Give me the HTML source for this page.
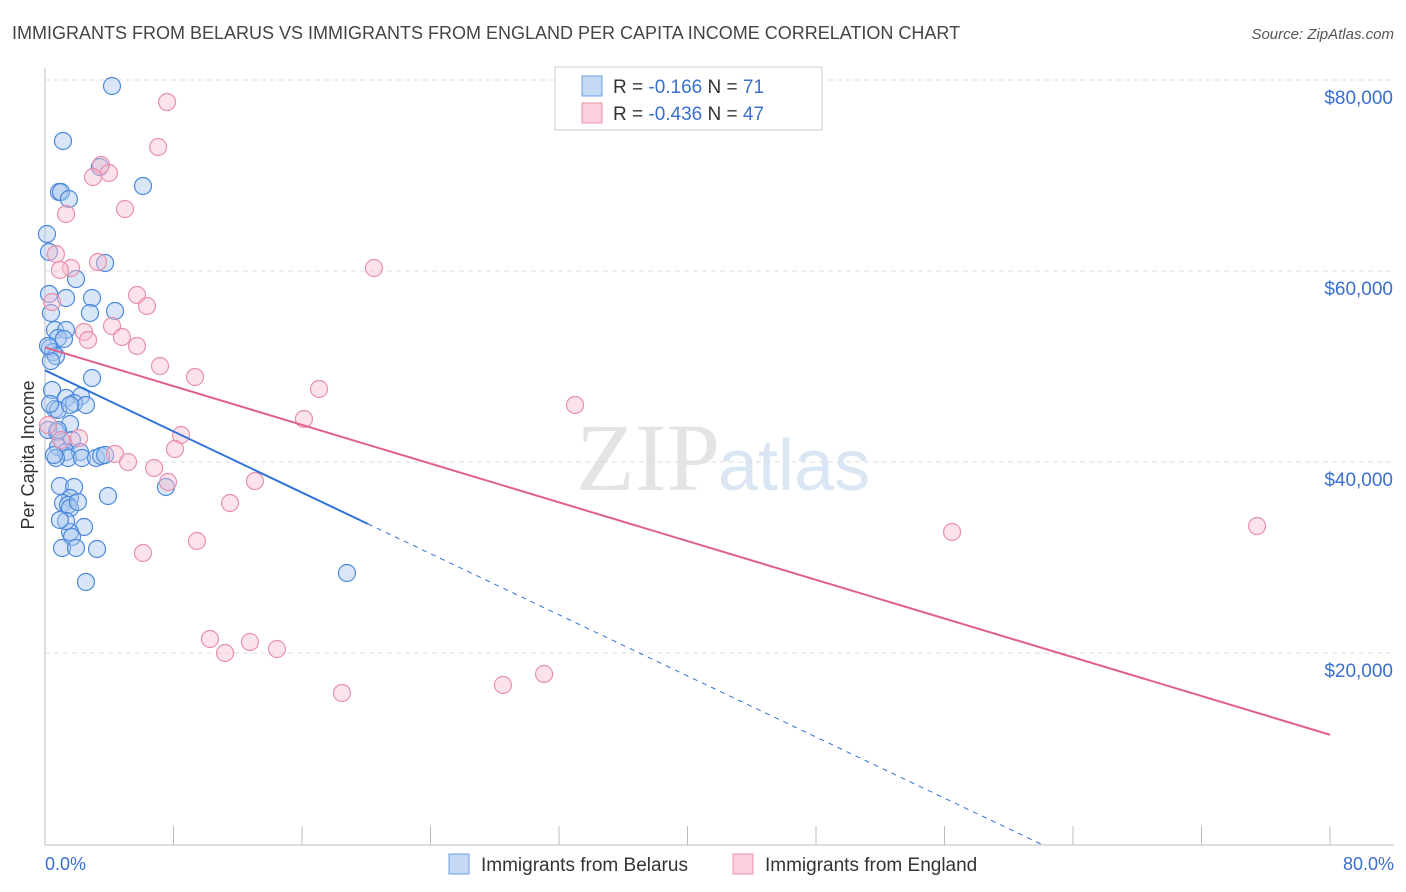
<!DOCTYPE html>
<html><head><meta charset="utf-8"><style>
body{margin:0;background:#fff;font-family:"Liberation Sans",sans-serif}
svg{display:block}
</style></head><body>
<svg id="c" width="1406" height="892">
<text x="12" y="39" font-size="18" fill="#444">IMMIGRANTS FROM BELARUS VS IMMIGRANTS FROM ENGLAND PER CAPITA INCOME CORRELATION CHART</text>
<text x="1394" y="39" font-size="15" fill="#555" font-style="italic" text-anchor="end">Source: ZipAtlas.com</text>
<text x="720" y="490" font-size="96" fill="#e4e4e4" text-anchor="end" font-family="Liberation Serif">ZIP</text>
<text x="718" y="490" font-size="72" fill="#dbe6f5">atlas</text>
<g id="grid"></g><g id="pts"></g><g id="lines"></g>
<text transform="translate(34,455) rotate(-90)" font-size="18" fill="#333" text-anchor="middle">Per Capita Income</text>
<text x="45" y="870" font-size="18" fill="#3a6fd0">0.0%</text>
<text x="1394" y="870" font-size="18" fill="#3a6fd0" text-anchor="end">80.0%</text>
<g>
<rect x="555" y="67" width="267" height="63" fill="#fff" stroke="#ccc"/>
<rect x="582" y="76" width="20" height="20" fill="#c5d9f4" stroke="#6e9fe0"/>
<rect x="582" y="103" width="20" height="20" fill="#fbd0dc" stroke="#eb92ad"/>
<text x="613" y="93" font-size="19" fill="#333">R = <tspan fill="#3a6fd0">-0.166</tspan>   N = <tspan fill="#3a6fd0">71</tspan></text>
<text x="613" y="120" font-size="19" fill="#333">R = <tspan fill="#3a6fd0">-0.436</tspan>   N = <tspan fill="#3a6fd0">47</tspan></text>
</g>
<g>
<rect x="449" y="854" width="20" height="20" fill="#c5d9f4" stroke="#6e9fe0"/>
<text x="481" y="871" font-size="19" fill="#333">Immigrants from Belarus</text>
<rect x="733" y="854" width="20" height="20" fill="#fbd0dc" stroke="#eb92ad"/>
<text x="765" y="871" font-size="19" fill="#333">Immigrants from England</text>
</g>
</svg>
<script>
const yTicks=[20000,40000,60000,80000];
const yTickLabels=["$20,000","$40,000","$60,000","$80,000"];
const xTicks=[0,8,16,24,32,40,48,56,64,72,80];
const belarusPx=[[112,86],[63,141],[100,167],[143,186],[59,192],[61,192],[69,199],[47,234],[49,252],[105,263],[76,279],[49,294],[66,298],[92,298],[115,311],[51,313],[90,313],[55,330],[66,330],[58,338],[64,339],[50,348],[53,352],[56,356],[51,361],[92,378],[52,390],[81,396],[66,398],[74,403],[55,409],[58,410],[70,424],[48,430],[57,432],[86,405],[63,442],[72,440],[58,447],[66,452],[80,452],[68,458],[82,458],[96,458],[101,456],[105,455],[56,458],[108,496],[60,486],[74,487],[70,498],[63,503],[68,505],[70,508],[84,527],[70,532],[72,537],[62,548],[76,548],[97,549],[86,582],[166,487],[347,573],[58,430],[70,405],[50,404],[48,346],[54,455],[66,521],[78,502],[60,520]];
const englandPx=[[167,102],[158,147],[101,165],[109,173],[93,177],[125,209],[66,214],[56,254],[71,268],[60,270],[98,262],[374,268],[137,295],[147,306],[52,302],[112,326],[84,332],[122,337],[88,340],[137,346],[160,366],[195,377],[319,389],[304,419],[575,405],[181,435],[79,438],[48,425],[175,449],[115,454],[128,462],[154,468],[168,482],[255,481],[230,503],[197,541],[143,553],[952,532],[1257,526],[210,639],[250,642],[225,653],[277,649],[342,693],[503,685],[544,674],[61,440]];
// data values (percent, income)
const belarusX=belarusPx.map(p=>+((p[0]-45)/1285*80).toFixed(2));
const belarusY=belarusPx.map(p=>Math.round((844-p[1])/191*20000));
const englandX=englandPx.map(p=>+((p[0]-45)/1285*80).toFixed(2));
const englandY=englandPx.map(p=>Math.round((844-p[1])/191*20000));
const belarusTrend=[49600,-800,20.1];   // intercept, slope, solid end %
const englandTrend=[52000,-507];
const sx=v=>45+v/80*1285, sy=v=>844-v/20000*191;
const NS="http://www.w3.org/2000/svg";
function mk(t,a,parent){const e=document.createElementNS(NS,t);for(const k in a)e.setAttribute(k,a[k]);document.getElementById(parent).appendChild(e);return e;}
const ax=mk('line',{x1:45,y1:68,x2:45,y2:845,stroke:'#bbb'},'grid');


const bx=mk('line',{x1:45,y1:845,x2:1394,y2:845,stroke:'#bbb'},'grid');


yTicks.forEach((v,i)=>{
 const g=mk('line',{x1:45,y1:sy(v),x2:1394,y2:sy(v),stroke:'#ddd','stroke-dasharray':'5,4'},'grid');
 
 
 const t=mk('text',{x:1393,y:sy(v)+24,'font-size':19,fill:'#3a6fd0','text-anchor':'end'},'grid');
 t.textContent=yTickLabels[i];
 
 
});
xTicks.forEach(v=>{
 const t=mk('line',{x1:sx(v),y1:826,x2:sx(v),y2:845,stroke:'#bbb'},'grid');
 
 
});
function dots(X,Y,fill,stroke,name){X.forEach((x,i)=>{
 const c=mk('circle',{cx:sx(x),cy:sy(Y[i]),r:8.5,fill:fill,'fill-opacity':0.45,stroke:stroke,'stroke-width':1.2},'pts');
 
 
});}
dots(belarusX,belarusY,'#a9c8f0','#4c88db','belarus-point');
dots(englandX,englandY,'#f8bfd0','#e890aa','england-point');
const [bi,bs,be]=belarusTrend;
const l1=mk('line',{x1:sx(0),y1:sy(bi),x2:sx(be),y2:sy(bi+bs*be),stroke:'#2f72d8','stroke-width':2},'lines');


const x0=-bi/bs;
const l2=mk('line',{x1:sx(be),y1:sy(bi+bs*be),x2:sx(x0),y2:sy(0),stroke:'#2f72d8','stroke-width':1,'stroke-dasharray':'5,5'},'lines');


const l3=mk('line',{x1:sx(0),y1:sy(englandTrend[0]),x2:sx(80),y2:sy(englandTrend[0]+englandTrend[1]*80),stroke:'#e0608a','stroke-width':2},'lines');


</script>
</body></html>
